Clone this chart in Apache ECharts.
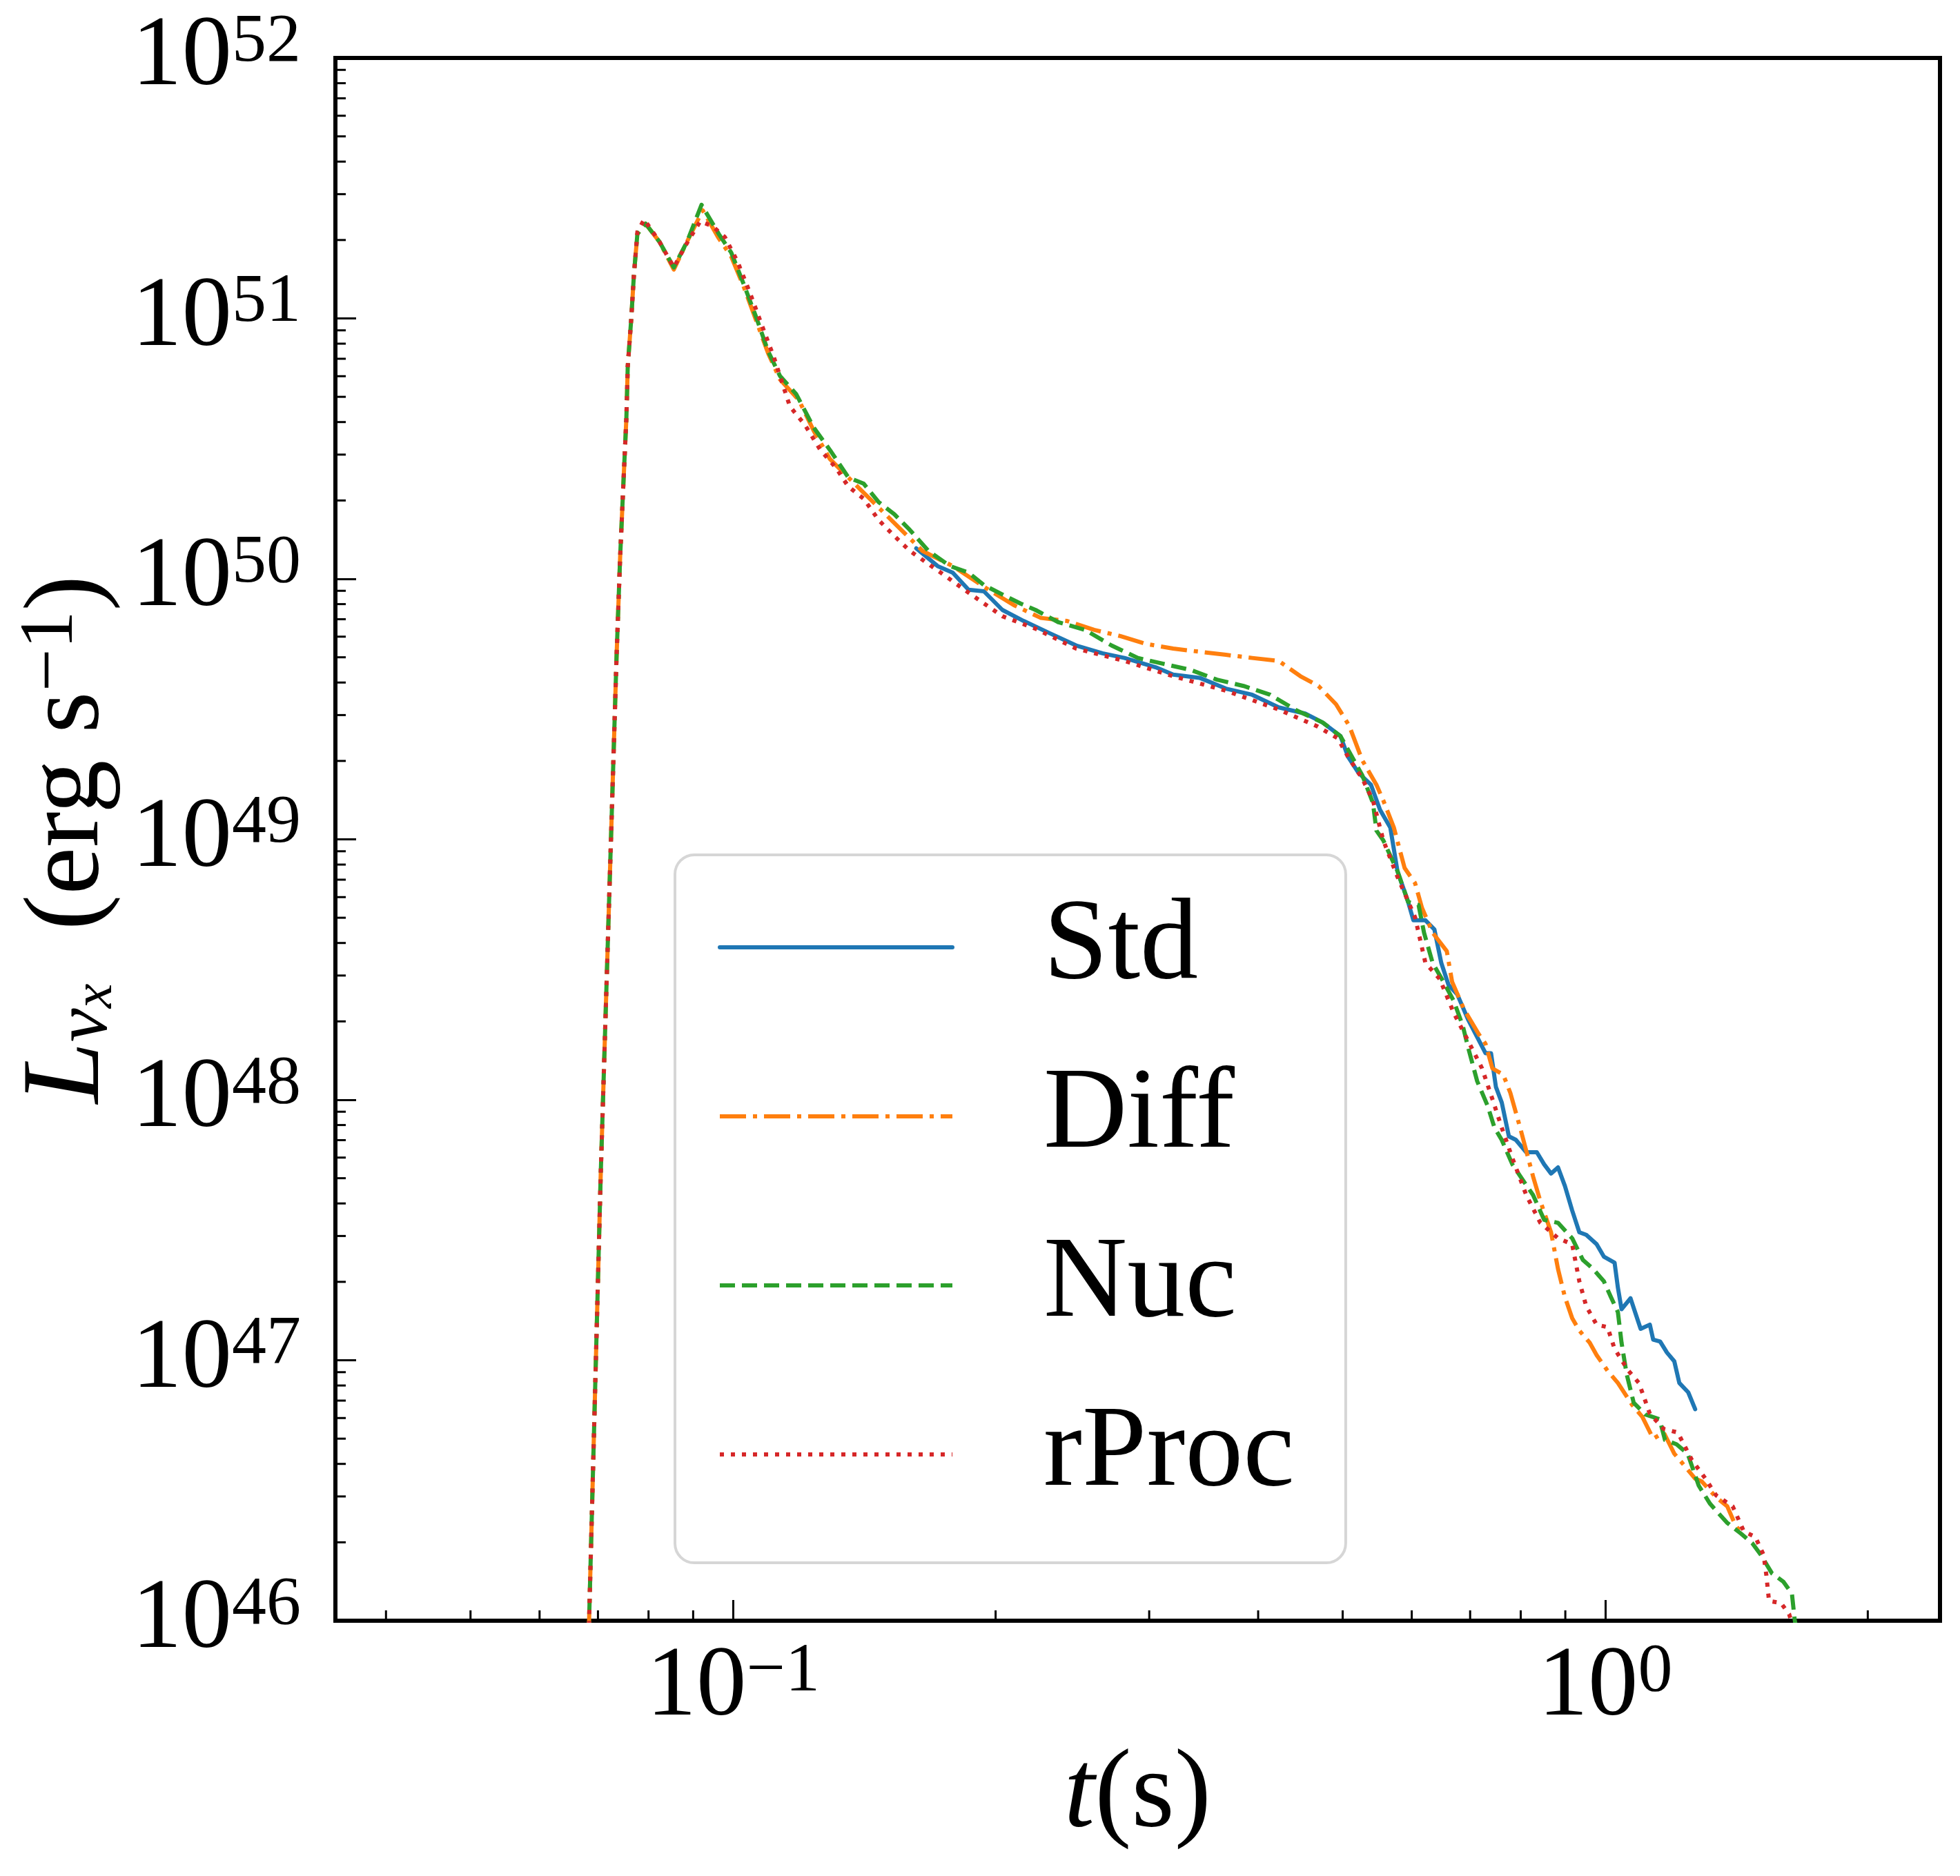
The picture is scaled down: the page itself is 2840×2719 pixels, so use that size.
<!DOCTYPE html>
<html>
<head>
<meta charset="utf-8">
<script src="https://cdn.jsdelivr.net/npm/echarts@6/dist/echarts.min.js"></script>
<style>
html, body { margin: 0; padding: 0; background: #fff; }
#chart { width: 2840px; height: 2719px; }
</style>
</head>
<body>
<div id="chart"></div>
<script>
// t (s) and L (erg/s)
const stdT = [0.1622, 0.1716, 0.1786, 0.1862, 0.1939, 0.2036, 0.2154, 0.2308, 0.2474, 0.2652, 0.2811, 0.3051, 0.3196, 0.3427, 0.3674, 0.3937, 0.4223, 0.4529, 0.4742, 0.4971, 0.5073, 0.5213, 0.5388, 0.5517, 0.567, 0.5778, 0.5943, 0.6026, 0.6221, 0.637, 0.6487, 0.6612, 0.6766, 0.6959, 0.729, 0.7397, 0.7493, 0.761, 0.7754, 0.7897, 0.8117, 0.8348, 0.8511, 0.8667, 0.8828, 0.899, 0.9164, 0.9339, 0.9512, 0.9775, 0.9964, 1.025, 1.034, 1.044, 1.069, 1.082, 1.098, 1.125, 1.135, 1.156, 1.177, 1.2, 1.216, 1.245, 1.268];
const stdL = [1.31e50, 1.12e50, 1.057e50, 9.08e49, 8.96e49, 7.60e49, 6.89e49, 6.18e49, 5.55e49, 5.18e49, 4.97e49, 4.58e49, 4.29e49, 4.17e49, 3.79e49, 3.59e49, 3.21e49, 3.04e49, 2.81e49, 2.49e49, 2.07e49, 1.80e49, 1.62e49, 1.30e49, 1.11e49, 7.55e48, 5.75e48, 4.89e48, 4.89e48, 4.51e48, 3.35e48, 2.76e48, 2.54e48, 2.04e48, 1.51e48, 1.51e48, 1.12e48, 9.75e47, 7.24e47, 7.02e47, 6.29e47, 6.29e47, 5.65e47, 5.21e47, 5.50e47, 4.67e47, 3.76e47, 3.10e47, 3.03e47, 2.79e47, 2.50e47, 2.37e47, 1.90e47, 1.57e47, 1.73e47, 1.53e47, 1.32e47, 1.37e47, 1.20e47, 1.18e47, 1.07e47, 9.91e46, 8.18e46, 7.53e46, 6.49e46];

const diffT = [0.06787, 0.06838, 0.07051, 0.07353, 0.07422, 0.07489, 0.07545, 0.07573, 0.07641, 0.07698, 0.07768, 0.07939, 0.08233, 0.08552, 0.08856, 0.0923, 0.0963, 0.0995, 0.1028, 0.1063, 0.1097, 0.1132, 0.119, 0.1238, 0.1291, 0.14, 0.1519, 0.1649, 0.1786, 0.1963, 0.2103, 0.2254, 0.2416, 0.2594, 0.278, 0.298, 0.3196, 0.3428, 0.3674, 0.3937, 0.4223, 0.4472, 0.469, 0.4913, 0.5087, 0.5266, 0.5466, 0.5566, 0.5723, 0.5888, 0.6053, 0.6165, 0.6341, 0.6582, 0.6674, 0.689, 0.7158, 0.729, 0.7424, 0.7638, 0.7784, 0.8, 0.8265, 0.8426, 0.8667, 0.8828, 0.899, 0.9164, 0.9339, 0.9598, 0.9775, 1.006, 1.034, 1.073, 1.103, 1.135, 1.167, 1.2, 1.234, 1.268, 1.29, 1.34, 1.38, 1.41, 1.439];
const diffL = [4e45, 1e46, 5.14e47, 5.08e49, 1.21e50, 2.39e50, 4.12e50, 6.55e50, 9.84e50, 1.48e51, 2.11e51, 2.31e51, 1.97e51, 1.54e51, 1.97e51, 2.60e51, 2.03e51, 1.73e51, 1.33e51, 9.80e50, 7.35e50, 5.83e50, 4.85e50, 3.69e50, 2.89e50, 2.20e50, 1.68e50, 1.28e50, 1.12e50, 9.08e49, 7.90e49, 7.08e49, 6.89e49, 6.37e49, 6.03e49, 5.62e49, 5.40e49, 5.25e49, 5.11e49, 4.97e49, 4.84e49, 4.23e49, 3.88e49, 3.30e49, 2.73e49, 2.01e49, 1.62e49, 1.41e49, 1.11e49, 7.76e48, 6.79e48, 5.45e48, 4.38e48, 3.72e48, 2.84e48, 2.22e48, 1.79e48, 1.64e48, 1.32e48, 1.25e48, 1.063e48, 7.67e47, 5.08e47, 4.08e47, 3.10e47, 2.24e47, 1.75e47, 1.45e47, 1.30e47, 1.168e47, 1.047e47, 9.12e46, 8.18e46, 6.76e46, 6.06e46, 5.00e46, 5.28e46, 4.38e46, 3.92e46, 3.51e46, 3.43e46, 2.98e46, 2.75e46, 2.33e46, 2.13e46];

const nucT = [0.06787, 0.06838, 0.07051, 0.07353, 0.07422, 0.07489, 0.07545, 0.07573, 0.07641, 0.07698, 0.07768, 0.07939, 0.08233, 0.08552, 0.08856, 0.09201, 0.0963, 0.09952, 0.1028, 0.1063, 0.1097, 0.1132, 0.1181, 0.1238, 0.1291, 0.1356, 0.1412, 0.1469, 0.1531, 0.1595, 0.1675, 0.1773, 0.1862, 0.1939, 0.2036, 0.2138, 0.2222, 0.2362, 0.2533, 0.2716, 0.2912, 0.3122, 0.3348, 0.3589, 0.3849, 0.4128, 0.4424, 0.4742, 0.4971, 0.5266, 0.5416, 0.5466, 0.5566, 0.5778, 0.5943, 0.6109, 0.6198, 0.6341, 0.6523, 0.6702, 0.6864, 0.6959, 0.7131, 0.733, 0.7464, 0.7608, 0.7826, 0.8041, 0.8265, 0.8511, 0.8828, 0.9164, 0.9425, 0.9687, 0.9964, 1.015, 1.034, 1.044, 1.058, 1.078, 1.112, 1.154, 1.171, 1.207, 1.243, 1.28, 1.319, 1.379, 1.431, 1.475, 1.508, 1.553, 1.601, 1.637, 1.649, 1.667];
const nucL = [4e45, 1e46, 5.14e47, 5.08e49, 1.21e50, 2.39e50, 4.12e50, 6.55e50, 9.84e50, 1.48e51, 2.11e51, 2.31e51, 1.97e51, 1.57e51, 1.97e51, 2.73e51, 2.11e51, 1.79e51, 1.36e51, 1.01e51, 7.48e50, 6.01e50, 5.13e50, 3.80e50, 3.13e50, 2.45e50, 2.32e50, 1.97e50, 1.77e50, 1.54e50, 1.28e50, 1.12e50, 1.057e50, 9.47e49, 8.71e49, 8.03e49, 7.60e49, 6.81e49, 6.37e49, 5.55e49, 4.97e49, 4.71e49, 4.47e49, 4.10e49, 3.88e49, 3.59e49, 3.13e49, 2.81e49, 2.49e49, 1.76e49, 1.38e49, 1.08e49, 9.91e48, 7.55e48, 5.75e48, 5.60e48, 4.38e48, 3.35e48, 2.84e48, 2.40e48, 1.93e48, 1.60e48, 1.18e48, 9.49e47, 7.83e47, 7.02e47, 5.65e47, 4.93e47, 4.31e47, 3.46e47, 3.37e47, 2.94e47, 2.43e47, 2.24e47, 2.01e47, 1.75e47, 1.53e47, 1.168e47, 8.87e46, 6.87e46, 6.19e46, 5.94e46, 4.94e46, 4.76e46, 4.38e46, 3.30e46, 2.81e46, 2.38e46, 2.16e46, 1.98e46, 1.79e46, 1.52e46, 1.41e46, 1.27e46, 1.01e46, 8e45];

const rprocT = [0.06787, 0.06838, 0.07051, 0.07353, 0.07422, 0.07489, 0.07545, 0.07573, 0.07641, 0.07698, 0.07768, 0.07909, 0.08233, 0.08552, 0.08856, 0.0917, 0.09473, 0.09788, 0.1012, 0.1045, 0.108, 0.1114, 0.1162, 0.1209, 0.1259, 0.1313, 0.1356, 0.1412, 0.1469, 0.1531, 0.1595, 0.173, 0.1875, 0.2036, 0.2222, 0.2474, 0.2811, 0.3196, 0.3674, 0.4223, 0.4671, 0.4937, 0.5073, 0.5266, 0.5416, 0.5566, 0.5778, 0.6053, 0.6221, 0.646, 0.6702, 0.6959, 0.7224, 0.7424, 0.7608, 0.7826, 0.8117, 0.8426, 0.8828, 0.9164, 0.9339, 0.9512, 0.9775, 1.006, 1.025, 1.063, 1.093, 1.125, 1.167, 1.211, 1.257, 1.303, 1.34, 1.4, 1.442, 1.486, 1.519, 1.53, 1.541, 1.59, 1.625, 1.643];
const rprocL = [4e45, 1e46, 5.14e47, 5.08e49, 1.21e50, 2.39e50, 4.12e50, 6.55e50, 9.84e50, 1.48e51, 2.15e51, 2.40e51, 1.97e51, 1.57e51, 1.95e51, 2.36e51, 2.26e51, 2.05e51, 1.65e51, 1.26e51, 9.33e50, 7.08e50, 4.59e50, 3.90e50, 3.13e50, 2.66e50, 2.26e50, 2.03e50, 1.68e50, 1.46e50, 1.28e50, 1.057e50, 8.71e49, 7.19e49, 6.44e49, 5.40e49, 4.84e49, 4.23e49, 3.72e49, 3.15e49, 2.72e49, 2.44e49, 2.07e49, 1.71e49, 1.41e49, 9.91e48, 7.18e48, 5.02e48, 3.35e48, 2.91e48, 2.16e48, 1.69e48, 1.32e48, 1.006e48, 7.83e47, 5.97e47, 4.31e47, 3.37e47, 2.94e47, 2.79e47, 2.01e47, 1.61e47, 1.37e47, 1.34e47, 1.106e47, 9.12e46, 8.18e46, 6.23e46, 5.45e46, 5.28e46, 4.14e46, 3.51e46, 3.03e46, 2.75e46, 2.20e46, 2.10e46, 1.79e46, 1.50e46, 1.19e46, 1.17e46, 1.06e46, 9.35e45];

// axis ranges and minor ticks
const xMin = 0.035, xMax = 2.42;
const yMin = 1e46, yMax = 1e52;
const xMinorTicks = [0.04, 0.05, 0.06, 0.07, 0.08, 0.09, 0.2, 0.3, 0.4, 0.5, 0.6, 0.7, 0.8, 0.9, 2];
const yDecades = [46, 47, 48, 49, 50, 51];
const yMantissas = [2, 3, 4, 5, 6, 7, 8, 9];
const yMinorTicks = [];
yDecades.forEach(d => yMantissas.forEach(m => yMinorTicks.push(m * Math.pow(10, d))));

const pairs = (ts, ls) => ts.map((t, i) => [t, ls[i]]);

const FONT = 'Liberation Serif';

const powLabel = (v) => {
    const e = Math.log10(v);
    const r = Math.round(e);
    if (Math.abs(e - r) > 1e-6) return '';
    return '{b|10}{s|' + (r < 0 ? '\u2212' + (-r) : r) + '}';
};

const labelRich = {
    b: { fontFamily: FONT, fontSize: 145, lineHeight: 145, color: '#000' },
    s: { fontFamily: FONT, fontSize: 100, lineHeight: 50, verticalAlign: 'top', color: '#000' }
};

// minor ticks drawn through the axes' own scales
const minorTicks = (values, dir) => ({
    type: 'custom',
    name: dir + 'minor',
    coordinateSystem: 'cartesian2d',
    silent: true,
    clip: false,
    z: 10,
    data: values.map(v => dir === 'x' ? [v, yMin] : [xMin, v]),
    renderItem: (params, api) => {
        const p = api.coord([api.value(0), api.value(1)]);
        const cs = params.coordSys;
        const len = 15;
        const shape = dir === 'x'
            ? { x1: p[0], y1: cs.y + cs.height, x2: p[0], y2: cs.y + cs.height - len }
            : { x1: cs.x, y1: p[1], x2: cs.x + len, y2: p[1] };
        return { type: 'line', shape: shape, style: { stroke: '#000', lineWidth: 3 } };
    }
});

const lineSeries = (name, ts, ls, color, type, cap) => ({
    name: name,
    type: 'line',
    data: pairs(ts, ls),
    symbol: 'none',
    showSymbol: false,
    clip: true,
    itemStyle: { color: color },
    lineStyle: { color: color, width: 6, type: type, cap: cap, join: 'round' }
});

const chart = echarts.init(document.getElementById('chart'));

chart.setOption({
    animation: false,
    backgroundColor: '#fff',
    grid: {
        left: 486, right: 29, top: 84, bottom: 370,
        show: true, borderColor: '#000', borderWidth: 6
    },
    xAxis: {
        type: 'log',
        logBase: 10,
        min: xMin,
        max: xMax,
        splitLine: { show: false },
        axisLine: { show: true, lineStyle: { color: '#000', width: 6 } },
        axisTick: { show: true, inside: true, length: 30, lineStyle: { color: '#000', width: 3 } },
        axisLabel: { margin: 25, formatter: powLabel, rich: labelRich },
        name: '{i|t}{r|(s)}',
        nameLocation: 'middle',
        nameGap: 170,
        nameTextStyle: {
            rich: {
                i: { fontFamily: FONT, fontStyle: 'italic', fontSize: 160, lineHeight: 160, color: '#000' },
                r: { fontFamily: FONT, fontSize: 160, lineHeight: 160, color: '#000' }
            }
        }
    },
    yAxis: {
        type: 'log',
        logBase: 10,
        min: yMin,
        max: yMax,
        splitLine: { show: false },
        axisLine: { show: true, lineStyle: { color: '#000', width: 6 } },
        axisTick: { show: true, inside: true, length: 30, lineStyle: { color: '#000', width: 3 } },
        axisLabel: { margin: 50, formatter: powLabel, rich: labelRich },
        name: '{L|L}{nu|\u03bd}{sx|x}{r|  (erg s}{sp|\u22121}{r|)}',
        nameLocation: 'middle',
        nameRotate: 90,
        nameGap: 290,
        nameTextStyle: {
            rich: {
                L: { fontFamily: FONT, fontStyle: 'italic', fontSize: 160, lineHeight: 160, color: '#000' },
                nu: { fontFamily: FONT, fontStyle: 'italic', fontSize: 110, lineHeight: 80, verticalAlign: 'bottom', color: '#000' },
                sx: { fontFamily: FONT, fontStyle: 'italic', fontSize: 80, lineHeight: 30, verticalAlign: 'bottom', color: '#000' },
                r: { fontFamily: FONT, fontSize: 155, lineHeight: 160, color: '#000' },
                sp: { fontFamily: FONT, fontSize: 110, lineHeight: 70, verticalAlign: 'top', color: '#000' }
            }
        }
    },
    legend: {
        data: ['Std', 'Diff', 'Nuc', 'rProc'],
        orient: 'vertical',
        left: 978,
        top: 1239,
        padding: [50, 74, 73, 62],
        itemWidth: 337,
        itemHeight: 20,
        itemGap: 77,
        selectedMode: false,
        itemStyle: { opacity: 0 },
        lineStyle: { width: 6 },
        backgroundColor: 'rgba(255,255,255,0.8)',
        borderColor: '#d6d6d6',
        borderWidth: 4,
        borderRadius: 28,
        textStyle: { fontFamily: FONT, fontSize: 168, lineHeight: 168, color: '#000', padding: [0, 0, 0, 127] }
    },
    series: [
        lineSeries('Std', stdT, stdL, '#1f77b4', 'solid', 'round'),
        lineSeries('Diff', diffT, diffL, '#ff7f0e', [38, 10, 6, 10], 'butt'),
        lineSeries('Nuc', nucT, nucL, '#2ca02c', [22, 10], 'butt'),
        lineSeries('rProc', rprocT, rprocL, '#d62728', [6, 10], 'butt'),
        minorTicks(xMinorTicks, 'x'),
        minorTicks(yMinorTicks, 'y')
    ]
});
</script>
</body>
</html>
